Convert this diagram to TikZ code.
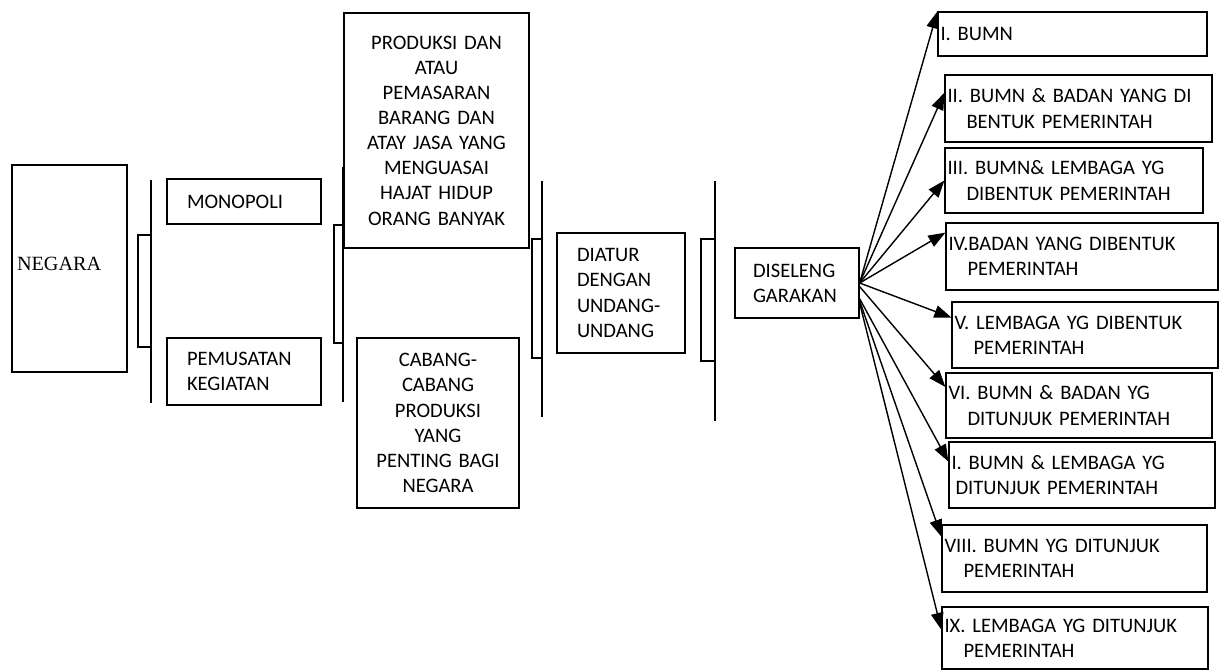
\documentclass[tikz,border=0pt]{standalone}
\usepackage{fontspec}
\setmainfont{Carlito}
\newfontfamily\timesfont{Liberation Serif}
\usetikzlibrary{
  arrows.meta,
  calc
}
\newcommand{\indline}{\\\hspace*{.38cm}}

\begin{document}
\begin{tikzpicture}[
  box/.style={draw, line width=.7pt, inner ysep=0pt, font=\fontsize{11.7}{14.3}\selectfont},
  lbox/.style={box, align=left, inner xsep=.4cm},
  cbox/.style={box, align=center, inner xsep=.1cm},
  rbox/.style={box, align=left, inner xsep=.05cm},
  brace/.style={line width=.75pt},
  arr/.style={-{Triangle[length=3.4mm,width=2.5mm]}, line width=.8pt}
]
  \useasboundingbox (0,0) rectangle (24.38,-13.4);

  \node[box, align=left, inner xsep=.1cm, text width=2.10cm, minimum height=4.14cm, font=\fontsize{11.5}{14}\timesfont] (negara) at (1.39,-5.37) {\raisebox{.2cm}{NEGARA}};

  \node[lbox, text width=2.28cm, minimum height=.90cm] (monopoli) at (4.88,-4.03) {MONOPOLI};
  \node[lbox, text width=2.28cm, minimum height=1.34cm] (pemusatan) at (4.88,-7.43) {PEMUSATAN\\KEGIATAN};

  \node[cbox, text width=3.50cm, minimum height=4.70cm] (produksi) at (8.73,-2.61) {PRODUKSI DAN\\ATAU\\PEMASARAN\\BARANG DAN\\ATAY JASA YANG\\MENGUASAI\\HAJAT HIDUP\\ORANG BANYAK};
  \node[cbox, text width=3.04cm, minimum height=3.40cm] (cabang) at (8.76,-8.46) {CABANG-\\CABANG\\PRODUKSI\\YANG\\PENTING BAGI\\NEGARA};

  \node[lbox, text width=1.76cm, minimum height=2.40cm] (diatur) at (12.42,-5.86) {DIATUR\\DENGAN\\UNDANG-\\UNDANG};
  \node[lbox, inner xsep=.36cm, text width=1.76cm, minimum height=1.40cm] (diseleng) at (15.94,-5.66) {DISELENG\\GARAKAN};

  \node[rbox, text width=5.28cm, minimum height=.88cm] (b1) at (21.45,-0.68) {I. BUMN};
  \node[rbox, text width=5.24cm, minimum height=1.34cm] (b2) at (21.57,-2.17) {II. BUMN \& BADAN YANG DI\indline BENTUK PEMERINTAH};
  \node[rbox, text width=5.06cm, minimum height=1.30cm] (b3) at (21.48,-3.61) {III. BUMN\& LEMBAGA YG\indline DIBENTUK PEMERINTAH};
  \node[rbox, text width=5.34cm, minimum height=1.34cm] (b4) at (21.64,-5.13) {IV.BADAN YANG DIBENTUK\indline PEMERINTAH};
  \node[rbox, text width=5.22cm, minimum height=1.32cm] (b5) at (21.70,-6.70) {V. LEMBAGA YG DIBENTUK\indline PEMERINTAH};
  \node[rbox, text width=5.22cm, minimum height=1.30cm] (b6) at (21.58,-8.11) {VI. BUMN \& BADAN YG\indline DITUNJUK PEMERINTAH};
  \node[rbox, text width=5.22cm, minimum height=1.32cm] (b7) at (21.64,-9.50) {I. BUMN \& LEMBAGA YG\\\hspace*{.08cm}DITUNJUK PEMERINTAH};
  \node[rbox, text width=5.20cm, minimum height=1.34cm] (b8) at (21.49,-11.17) {VIII. BUMN YG DITUNJUK\indline PEMERINTAH};
  \node[rbox, text width=5.22cm, minimum height=1.24cm] (b9) at (21.50,-12.76) {IX. LEMBAGA YG DITUNJUK\indline PEMERINTAH};

  \foreach \x/\n/\t/\b/\u/\l in {3.02/2.76/-3.60/-8.06/-4.70/-6.94,
                                 6.86/6.68/-3.34/-8.04/-4.50/-6.86,
                                 10.84/10.64/-3.62/-8.34/-4.78/-7.16,
                                 14.30/14.02/-3.62/-8.42/-4.78/-7.22}
    \draw[brace] (\x,\t) -- (\x,\b) (\x,\u) -- (\n,\u) -- (\n,\l) -- (\x,\l);

  \foreach \b/\f/\s in {b1/0/.5, b2/.27/.5, b3/.5/.5, b4/.15/.5, b5/.24/.5,
                        b6/.22/.55, b7/.3/.72, b8/.18/.75, b9/.37/.78}
    \draw[arr] ($(diseleng.north east)!\s!(diseleng.south east)$) -- ($(\b.north west)!\f!(\b.south west)$);
\end{tikzpicture}
\end{document}
